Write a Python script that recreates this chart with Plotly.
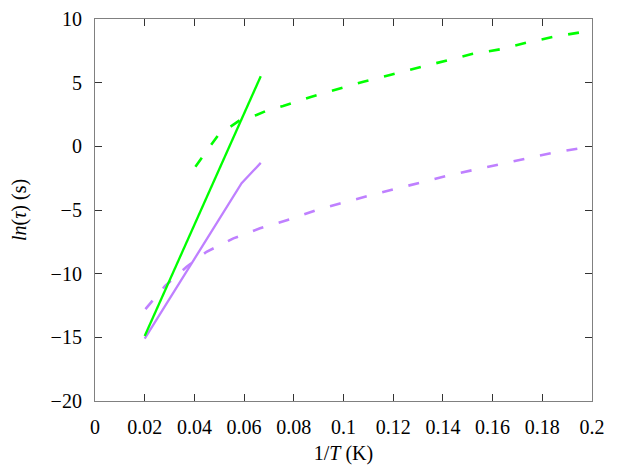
import plotly.graph_objects as go

# Green (solid fit)
green_solid_x = [0.02, 0.0667]
green_solid_y = [-14.9, 5.5]
# Green dashed curve
green_dash_x = [0.0404, 0.0496, 0.0584, 0.065, 0.0691, 0.0757, 0.0865, 0.0972, 0.108,
                0.1187, 0.1294, 0.1408, 0.1516, 0.163, 0.1737, 0.1847, 0.2]
green_dash_y = [-1.6, 0.89, 2.07, 2.46, 2.8, 3.17, 3.85, 4.48, 5.08,
                5.6, 6.13, 6.73, 7.25, 7.62, 8.14, 8.61, 9.1]
# Purple (solid fit)
purple_solid_x = [0.02, 0.059, 0.0667]
purple_solid_y = [-15.1, -2.9, -1.3]
# Purple dashed curve
purple_dash_x = [0.0203, 0.0282, 0.0369, 0.0449, 0.0557, 0.0664, 0.0785, 0.0892, 0.0986,
                 0.1093, 0.12, 0.1308, 0.1415, 0.1522, 0.163, 0.1737, 0.1844, 0.2]
purple_dash_y = [-12.78, -10.97, -9.46, -8.28, -7.23, -6.44, -5.73, -5.0, -4.48,
                 -3.9, -3.38, -2.86, -2.31, -1.86, -1.39, -0.94, -0.5, 0.0]

GREEN = "#00ff00"
PURPLE = "#bf80ff"
DASH = "11px,16px"

fig = go.Figure()
fig.add_trace(go.Scatter(x=green_dash_x, y=green_dash_y, mode="lines",
                         line=dict(color=GREEN, width=2.6, dash=DASH)))
fig.add_trace(go.Scatter(x=purple_dash_x, y=purple_dash_y, mode="lines",
                         line=dict(color=PURPLE, width=2.6, dash=DASH)))
fig.add_trace(go.Scatter(x=purple_solid_x, y=purple_solid_y, mode="lines",
                         line=dict(color=PURPLE, width=2.3)))
fig.add_trace(go.Scatter(x=green_solid_x, y=green_solid_y, mode="lines",
                         line=dict(color=GREEN, width=2.3)))

font = dict(family="Liberation Serif, serif", size=20, color="black")
axis_common = dict(showgrid=False, zeroline=False, showline=True, linecolor="#808080",
                   linewidth=1.2, mirror="allticks", ticks="inside", ticklen=7,
                   tickcolor="#333333", tickwidth=1, tickfont=font,
                   ticklabeloverflow="allow")

fig.update_xaxes(range=[0, 0.2], tickvals=[0, 0.02, 0.04, 0.06, 0.08, 0.1, 0.12, 0.14, 0.16, 0.18, 0.2],
                 ticktext=["0", "0.02", "0.04", "0.06", "0.08", "0.1", "0.12", "0.14", "0.16", "0.18", "0.2"],
                 title=dict(text="1/<i>T</i> (K)", font=font, standoff=8),
                 ticklabelstandoff=8, **axis_common)
fig.update_yaxes(range=[-20, 10], tickvals=[-20, -15, -10, -5, 0, 5, 10],
                 title=dict(text="<i>ln</i>(<i>τ</i>) (s)", font=font, standoff=20),
                 ticklabelstandoff=8, **axis_common)

fig.update_layout(width=630, height=472, margin=dict(l=87, r=46, t=11, b=79, autoexpand=False),
                  plot_bgcolor="white", paper_bgcolor="white", showlegend=False)

fig.write_html("out.html")
